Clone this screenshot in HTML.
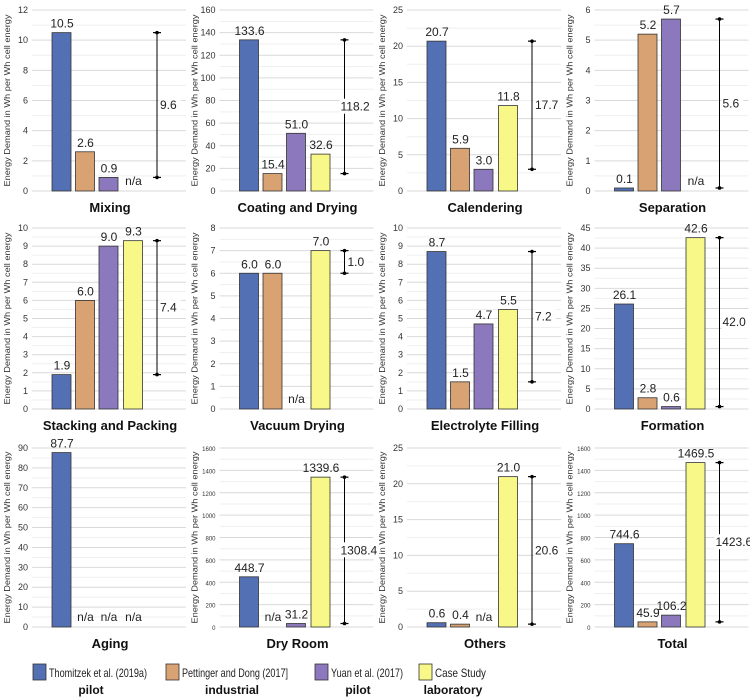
<!DOCTYPE html>
<html><head><meta charset="utf-8"><style>
body{margin:0;background:#fff;font-family:"Liberation Sans",sans-serif;}
svg{display:block}
</style></head><body>
<svg id="c" width="750" height="699" font-family="Liberation Sans, sans-serif"></svg>
<script>
const titles=["Mixing","Coating and Drying","Calendering","Separation","Stacking and Packing","Vacuum Drying","Electrolyte Filling","Formation","Aging","Dry Room","Others","Total"];
const yMax=[12,160,25,6,10,8,10,45,90,1600,25,1600];
const yStep=[2,20,5,1,1,1,1,5,10,200,5,200];
const thomitzek=[10.5,133.6,20.7,0.1,1.9,6.0,8.7,26.1,87.7,448.7,0.6,744.6];
const pettinger=[2.6,15.4,5.9,5.2,6.0,6.0,1.5,2.8,null,null,0.4,45.9];
const yuan=[0.9,51.0,3.0,5.7,9.0,null,4.7,0.6,null,31.2,null,106.2];
const caseStudy=[null,32.6,11.8,null,9.3,7.0,5.5,42.6,null,1339.6,21.0,1469.5];
const spreadLabel=["9.6","118.2","17.7","5.6","7.4","1.0","7.2","42.0",null,"1308.4","20.6","1423.6"];
const seriesNames=["Thomitzek et al. (2019a)","Pettinger and Dong (2017]","Yuan et al. (2017)","Case Study"];
const seriesSub=["pilot","industrial","pilot","laboratory"];
const colors=["#5470b4","#d8a273","#8c78bc","#f8f888"];
const series=[thomitzek,pettinger,yuan,caseStudy];
const NS="http://www.w3.org/2000/svg";
const svg=document.getElementById('c');
function mk(tag,attrs,parent,text){const e=document.createElementNS(NS,tag);for(const k in attrs)e.setAttribute(k,attrs[k]);if(text!==undefined)e.textContent=text;(parent||svg).appendChild(e);return e;}
const rowTop=[10,228,448], rowZero=[191,409,627], colW=187.5;
for(let p=0;p<12;p++){
  const r=Math.floor(p/4),c=p%4,x0=c*colW;
  const top=rowTop[r],zero=rowZero[r],mx=yMax[p];
  const y=v=>zero-(v/mx)*(zero-top);
  const g=mk('g',{},svg);
  
  
  const st=yStep[p];
  for(let v=0;v<=mx+1e-9;v+=st/2){
    const major=Math.abs(v/st-Math.round(v/st))<1e-6;
    const ln=mk('line',{x1:x0+32,x2:x0+186,y1:y(v),y2:y(v),stroke:major?'#d9d9d9':'#efefef','stroke-width':1},g);
    
    
    if(major){
      const t=mk('text',{x:x0+28,y:y(v)+3,'text-anchor':'end','font-size':mx>=1000?6:9,fill:'#333'},g,String(Math.round(v)));
      
      
    }
  }
  const at=mk('text',{transform:`translate(${x0+10},${(top+zero)/2}) rotate(-90)`,'text-anchor':'middle','font-size':8,fill:'#333',textLength:172,lengthAdjust:'spacingAndGlyphs'},g,'Energy Demand in Wh per Wh cell energy');
  
  
  const offs=[52,75.5,99,123.5];
  series.forEach((s,i)=>{
    const v=s[p], bx=x0+offs[i];
    if(v===null){
      const t=mk('text',{x:bx+10,y:zero-6,'text-anchor':'middle','font-size':12,fill:'#222'},g,'n/a');
      
      
      return;
    }
    const b=mk('rect',{x:bx,y:y(v),width:19,height:Math.max(0.5,zero-y(v)),fill:colors[i],stroke:'#333','stroke-width':0.8},g);
    
    
    const t=mk('text',{x:bx+10,y:y(v)-5,'text-anchor':'middle','font-size':12,fill:'#222'},g,v.toFixed(1));
    
    
  });
  if(spreadLabel[p]){
    const vals=series.map(s=>s[p]).filter(v=>v!==null);
    const lo=Math.min(...vals),hi=Math.max(...vals),bx=x0+157;
    const l=mk('line',{x1:bx,x2:bx,y1:y(hi),y2:y(lo),stroke:'#000','stroke-width':1},g);
    
    
    [hi,lo].forEach(v=>{const cap=mk('line',{x1:bx-4,x2:bx+4,y1:y(v),y2:y(v),stroke:'#000','stroke-width':1.2},g);
      const d=mk('circle',{cx:bx,cy:y(v),r:1.8,fill:'#000'},g);});
    const lab=spreadLabel[p], w=lab.length*6.6;
    const lx0=lab.length>4?bx-4:bx+3, my=(y(hi)+y(lo))/2;
    const bg=mk('rect',{x:lx0-1,y:my-8,width:w+2,height:15,fill:'#fff'},g);
    
    
    const t=mk('text',{x:lx0,y:my+4,'font-size':12,fill:'#222'},g,lab);
    
    
  }
  const tt=mk('text',{x:x0+110,y:zero+21,'text-anchor':'middle','font-size':13,'font-weight':'bold',fill:'#111'},g,titles[p]);
  
  
}
const lx=[33,166,315,419];
const lw=[98,106,72,51];
const subX=[91,232,358,453];
seriesNames.forEach((n,i)=>{
  const g=mk('g',{},svg);
  
  
  mk('rect',{x:lx[i],y:664,width:13,height:16,fill:colors[i],stroke:'#333','stroke-width':0.8},g);
  mk('text',{x:lx[i]+16,y:677,'font-size':12,fill:'#222',textLength:lw[i],lengthAdjust:'spacingAndGlyphs'},g,n);
  mk('text',{x:subX[i],y:694,'text-anchor':'middle','font-size':12,'font-weight':'bold',fill:'#111'},g,seriesSub[i]);
});
</script>
</body></html>
